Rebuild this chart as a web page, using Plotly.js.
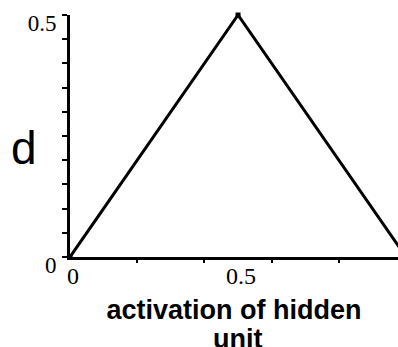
<!DOCTYPE html>
<html>
<head>
<meta charset="utf-8">
<script src="https://cdn.plot.ly/plotly-3.0.1.min.js"></script>
<style>html,body{margin:0;padding:0;background:#fff;overflow:hidden;}</style>
</head>
<body>
<div id="chart" style="width:398px;height:347px;"></div>
<script>
// data
const activation = [0, 0.5, 1];
const dValue = [0, 0.5, 0];
const xTickVals = [0, 0.5];
const xTickText = ['0', '0.5'];
const xMinorTickVals = [0.2, 0.4, 0.6, 0.8];
const yTickVals = [0, 0.05, 0.1, 0.15, 0.2, 0.25, 0.3, 0.35, 0.4, 0.45, 0.5];
const yTickText = ['0', '', '', '', '', '', '', '', '', '', '0.5'];
const xTitle = 'activation of hidden';
const xTitle2 = 'unit';
const yTitle = 'd';

const serif = 'Liberation Serif, Times New Roman, serif';
const sans = 'Liberation Sans, Arial, sans-serif';

const trace = {
  x: activation, y: dValue, type: 'scatter', mode: 'lines+markers',
  line: {color: '#000', width: 3},
  marker: {color: '#000', size: 5, symbol: 'square'},
  cliponaxis: false, hoverinfo: 'none'
};

const layout = {
  width: 398, height: 347,
  margin: {l: 70, r: 0, t: 15, b: 90, pad: 0},
  paper_bgcolor: '#fff', plot_bgcolor: '#fff',
  showlegend: false,
  xaxis: {
    range: [0, 0.976], showgrid: false, zeroline: false,
    showline: true, linecolor: '#000', linewidth: 3,
    tickmode: 'array', tickvals: xTickVals, ticktext: xTickText,
    ticks: '', ticklabelstandoff: -5, ticklabelshift: 3,
    tickfont: {family: serif, size: 24, color: '#000'},
    minor: {tickmode: 'array', tickvals: xMinorTickVals, ticks: 'outside', ticklen: 3, tickwidth: 2, tickcolor: '#000', showgrid: false},
    title: {text: xTitle, font: {family: sans, size: 27, color: '#000', weight: 'bold'}, standoff: 13}
  },
  yaxis: {
    range: [0, 0.5], showgrid: false, zeroline: false,
    showline: true, linecolor: '#000', linewidth: 3,
    tickmode: 'array', tickvals: yTickVals, ticktext: yTickText,
    ticks: 'outside', ticklen: 5, tickwidth: 2, tickcolor: '#000',
    ticklabelstandoff: 1, ticklabelshift: 8,
    tickfont: {family: serif, size: 23, color: '#000'}
  },
  annotations: [
    {text: yTitle, xref: 'paper', yref: 'paper', x: -0.14, y: 0.452, xanchor: 'center', yanchor: 'middle', showarrow: false,
     font: {family: sans, size: 46, color: '#000'}},
    {text: xTitle2, xref: 'paper', yref: 'paper', x: 0.51, y: -0.338, xanchor: 'center', yanchor: 'middle', showarrow: false,
     font: {family: sans, size: 27, color: '#000', weight: 'bold'}}
  ]
};

Plotly.newPlot('chart', [trace], layout, {displayModeBar: false, staticPlot: true});
</script>
</body>
</html>
